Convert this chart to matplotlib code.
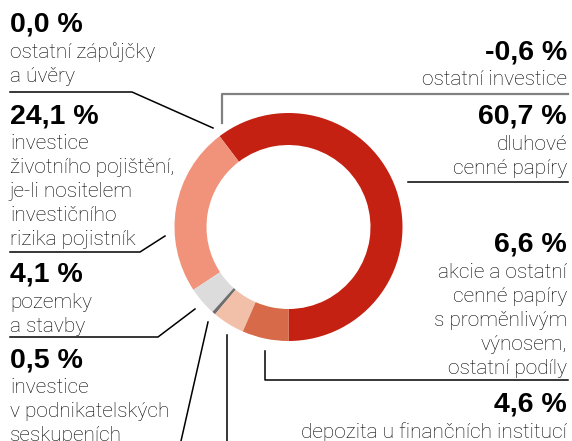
import matplotlib
matplotlib.use("Agg")
import matplotlib.pyplot as plt

# struktura investic (podíly v %)
labels = ["dluhové cenné papíry", "investice životního pojištění",
          "pozemky a stavby", "investice v podnikatelských seskupeních",
          "depozita u finančních institucí", "akcie a ostatní"]
values = [60.7, 24.1, 4.1, 0.5, 4.6, 6.6]
colors = ["#C42112", "#F0937A", "#DCDCDC", "#6E6E6E", "#F2BFA8", "#D76A48"]

W, H = 572, 441
fig = plt.figure(figsize=(W / 100, H / 100), dpi=100)

# donut
cx, cy, r = 288.5, 227, 114
ax = fig.add_axes([(cx - r) / W, 1 - (cy + r) / H, 2 * r / W, 2 * r / H])
ax.pie(values, colors=colors, startangle=-90, counterclock=True,
       wedgeprops=dict(width=32 / r, linewidth=0), radius=1)
ax.set_xlim(-1, 1)
ax.set_ylim(-1, 1)
ax.set_aspect("equal")
ax.axis("off")

# overlay for labels and leader lines, pixel coords
ov = fig.add_axes([0, 0, 1, 1], zorder=-1)
ov.set_xlim(0, W)
ov.set_ylim(H, 0)
ov.axis("off")

bold = dict(fontsize=20.5, fontweight="bold", family="Liberation Sans", color="black")
light = dict(fontsize=15, fontweight="light", family="Roboto", color="black")

def block(x, y_num, num, lines, ha="left"):
    ov.text(x, y_num, num, ha=ha, va="baseline", **bold)
    for i, s in enumerate(lines):
        ov.text(x, y_num + 26 + 24 * i, s, ha=ha, va="baseline", **light)

# left side
block(10, 32, "0,0 %", ["ostatní zápůjčky", "a úvěry"])
block(10, 123, "24,1 %", ["investice", "životního pojištění,", "je-li nositelem",
                          "investičního", "rizika pojistník"])
block(10, 282, "4,1 %", ["pozemky", "a stavby"])
block(10, 367, "0,5 %", ["investice", "v podnikatelských", "seskupeních"])

# right side
block(567, 59, "-0,6 %", ["ostatní investice"], ha="right")
block(567, 124, "60,7 %", ["dluhové", "cenné papíry"], ha="right")
block(567, 252, "6,6 %", ["akcie a ostatní", "cenné papíry", "s proměnlivým",
                          "výnosem,", "ostatní podíly"], ha="right")
block(567, 412, "4,6 %", ["depozita u finančních institucí"], ha="right")

lw = 1.1
ov.plot([10, 132, 213], [92, 92, 128], color="black", lw=lw)
ov.plot([222, 222, 568], [123, 94, 94], color="#808080", lw=1.6)
ov.plot([408, 568], [182, 182], color="black", lw=lw)
ov.plot([10, 140, 165], [252, 252, 236], color="black", lw=lw)
ov.plot([10, 158, 195], [337, 337, 309], color="black", lw=lw)
ov.plot([208, 181], [322, 441], color="black", lw=lw)
ov.plot([227, 227], [335, 441], color="black", lw=lw)
ov.plot([265, 265, 568], [351, 380, 380], color="black", lw=lw)

fig.savefig("out.png", dpi=100)
